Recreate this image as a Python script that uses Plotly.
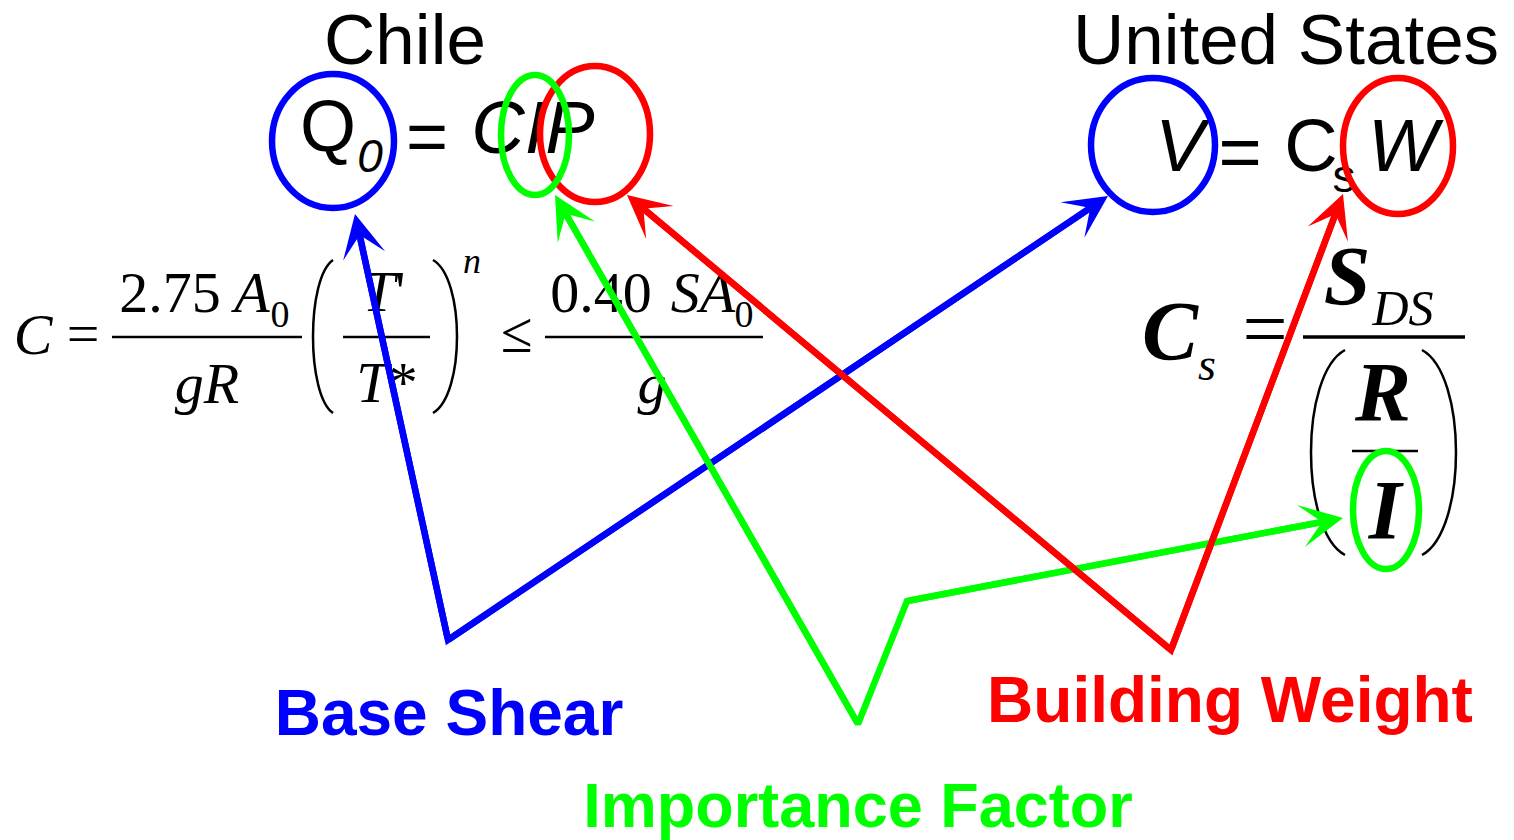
import math
import plotly.graph_objects as go

W, H = 1514, 840
SANS = "Liberation Sans, Arial, sans-serif"
SERIF = "Liberation Serif, Times New Roman, serif"
BLUE, GREEN, RED, BLACK = "#0000ff", "#00ff00", "#ff0000", "#000000"

# ---------------- text content ----------------
title_text = ["Chile", "United States"]
title_x = [405, 1286]
title_y = [40, 40]
title_size = 71

label_text = ["Base Shear", "Importance Factor", "Building Weight"]
label_x = [449, 858, 1230]
label_y = [713, 806, 700]
label_size = [64, 63, 64]
label_color = [BLUE, GREEN, RED]

# top equations (sans serif): Q0 = CIP   and   V = Cs W
top_eq_text = ["Q", "<i>0</i>", "=", "<i>CIP</i>",
               "<i>V</i>", "=", "C", "s", "<i>W</i>"]
top_eq_x = [328, 370, 427, 533, 1180, 1240, 1311, 1344, 1403]
top_eq_y = [127, 156, 137, 128, 146, 152, 146, 176, 146]
top_eq_size = [72, 46, 72, 74, 74, 74, 74, 46, 74]

# Chilean coefficient formula (serif)
chile_f_text = ["<i>C</i>", "=", "2.75", "<i>A</i>", "0", "<i>gR</i>",
                "<i>T</i>'", "<i>T</i>*", "<i>n</i>", "≤",
                "0.40", "<i>SA</i>", "0", "<i>g</i>"]
chile_f_x = [33, 83, 170, 252, 280, 207, 384, 387, 472, 517, 601, 703, 744, 652]
chile_f_y = [334, 333, 292, 292, 314, 383, 291, 382, 261, 332, 292, 292, 314, 383]
chile_f_size = [58, 58, 58, 58, 38, 58, 58, 58, 36, 58, 58, 58, 38, 58]

# US coefficient formula (serif)
us_f_text = ["<b><i>C</i></b>", "<i>s</i>", "=", "<b><i>S</i></b>", "<i>DS</i>",
             "<b><i>R</i></b>", "<b><i>I</i></b>"]
us_f_x = [1170, 1207, 1265, 1347, 1403, 1383, 1385]
us_f_y = [331, 364, 329, 276, 308, 392, 510]
us_f_size = [84, 46, 80, 84, 50, 84, 84]

# fraction bars
bar_x0 = [112, 343, 545, 1303, 1352]
bar_x1 = [302, 430, 763, 1465, 1418]
bar_y = [337, 337, 337, 337, 451]
bar_w = [2.5, 2.5, 2.5, 3.5, 2.5]

# big parentheses: (x at ends, x at bulge, y top, y bottom)
paren_xt = [333, 433, 1345, 1422]
paren_xb = [313, 457, 1311, 1456]
paren_yt = [260, 260, 350, 350]
paren_yb = [413, 413, 555, 555]

# highlight ellipses
ell_cx = [333, 595, 535, 1153, 1398, 1386]
ell_cy = [141, 134, 135, 145, 146, 510]
ell_rx = [61, 55, 34, 62, 55, 33]
ell_ry = [67, 68, 60, 67, 68, 59]
ell_color = [BLUE, RED, GREEN, BLUE, RED, GREEN]

# connector polylines (both ends are arrow tips)
blue_x = [355, 448, 1108]
blue_y = [214, 640, 196]
green_x = [555, 858, 907, 1343]
green_y = [195, 724, 601, 518]
red_x = [627, 1171, 1343]
red_y = [195, 650, 194]

LINE_W = 6.5
TEXT_SHIFT = 0.09  # fraction of font size, aligns the glyph centre with y

fig = go.Figure()


def add_text(texts, xs, ys, sizes, family, colors):
    for t, x, y, s, c in zip(texts, xs, ys, sizes, colors):
        fig.add_trace(go.Scatter(
            x=[x], y=[y + TEXT_SHIFT * s], mode="text", text=[t],
            textposition="middle center",
            textfont=dict(family=family, size=s, color=c),
            hoverinfo="skip", showlegend=False))


add_text(title_text, title_x, title_y, [title_size] * 2, SANS, [BLACK, BLACK])
add_text(top_eq_text, top_eq_x, top_eq_y, top_eq_size, SANS, [BLACK] * len(top_eq_text))
add_text(chile_f_text, chile_f_x, chile_f_y, chile_f_size, SERIF, [BLACK] * len(chile_f_text))
add_text(us_f_text, us_f_x, us_f_y, us_f_size, SERIF, [BLACK] * len(us_f_text))
add_text(["<b>%s</b>" % t for t in label_text], label_x, label_y, label_size, SANS, label_color)

shapes = []
for x0, x1, y, w in zip(bar_x0, bar_x1, bar_y, bar_w):
    shapes.append(dict(type="line", xref="x", yref="y", x0=x0, x1=x1, y0=y, y1=y,
                       line=dict(color=BLACK, width=w), layer="below"))
for xt, xb, yt, yb in zip(paren_xt, paren_xb, paren_yt, paren_yb):
    cx = xt + (xb - xt) * 4.0 / 3.0
    h = yb - yt
    path = "M %g,%g C %g,%g %g,%g %g,%g" % (xt, yt, cx, yt + 0.12 * h, cx, yb - 0.12 * h, xt, yb)
    shapes.append(dict(type="path", xref="x", yref="y", path=path,
                       line=dict(color=BLACK, width=2.5), layer="below"))
for cx, cy, rx, ry, col in zip(ell_cx, ell_cy, ell_rx, ell_ry, ell_color):
    shapes.append(dict(type="circle", xref="x", yref="y",
                       x0=cx - rx, x1=cx + rx, y0=cy - ry, y1=cy + ry,
                       line=dict(color=col, width=6.5), fillcolor="rgba(0,0,0,0)",
                       layer="above"))


def pull_back(xa, ya, xb, yb, d):
    """move point b toward a by d pixels"""
    L = math.hypot(xb - xa, yb - ya)
    return xb + (xa - xb) * d / L, yb + (ya - yb) * d / L


annotations = []
for xs, ys, col in [(blue_x, blue_y, BLUE), (green_x, green_y, GREEN), (red_x, red_y, RED)]:
    px, py = list(xs), list(ys)
    px[0], py[0] = pull_back(xs[1], ys[1], xs[0], ys[0], 24)
    px[-1], py[-1] = pull_back(xs[-2], ys[-2], xs[-1], ys[-1], 24)
    fig.add_trace(go.Scatter(x=px, y=py, mode="lines",
                             line=dict(color=col, width=LINE_W),
                             hoverinfo="skip", showlegend=False))
    for (tx, ty, bx, by) in [(xs[0], ys[0], xs[1], ys[1]), (xs[-1], ys[-1], xs[-2], ys[-2])]:
        annotations.append(dict(x=tx, y=ty, ax=bx, ay=by, xref="x", yref="y",
                                axref="x", ayref="y", text="", showarrow=True,
                                arrowhead=3, arrowsize=1.1, arrowwidth=LINE_W,
                                arrowcolor=col, standoff=0))

fig.update_layout(
    width=W, height=H,
    margin=dict(l=0, r=0, t=0, b=0),
    paper_bgcolor="white", plot_bgcolor="white",
    xaxis=dict(range=[0, W], visible=False, fixedrange=True),
    yaxis=dict(range=[H, 0], visible=False, fixedrange=True),
    shapes=shapes, annotations=annotations,
    showlegend=False,
)

fig.write_html("out.html", config={"displayModeBar": False},
               post_script="document.body.style.margin='0';")
